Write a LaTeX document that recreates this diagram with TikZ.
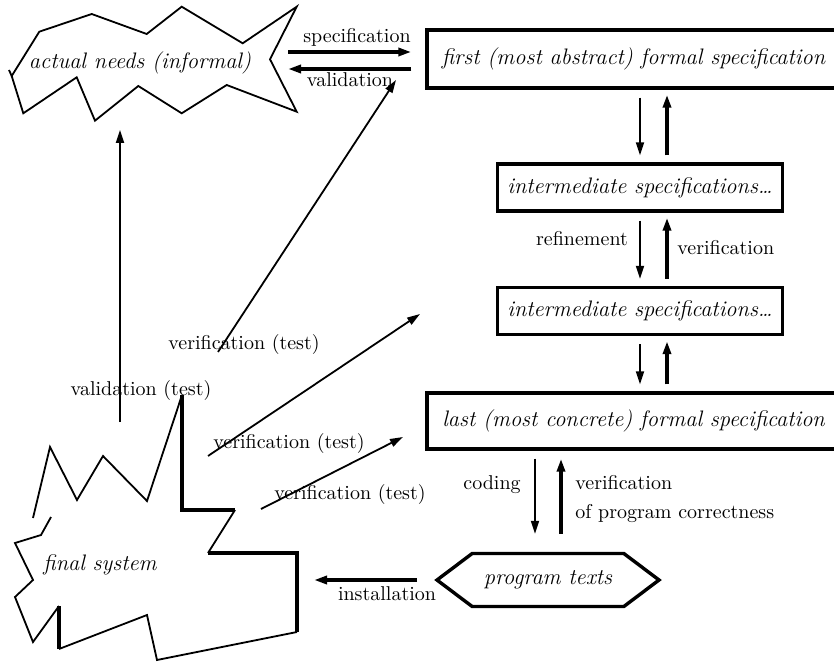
\documentclass[tikz,border=0pt]{standalone}
\usepackage{tikz}
\usetikzlibrary{calc, arrows.meta, shapes.symbols}

\begin{document}
\begin{tikzpicture}[x=0.5pt, y=-0.5pt,
	thinline/.style = {line width=0.9pt},
	thickline/.style = {line width=1.7pt},
	tip/.style = {-{Triangle[length=6.5pt, width=4pt]}},
	itfont/.style = {font=\fontsize{11.2}{13}\selectfont\itshape},
	specbox/.style = {draw, thickline, itfont, inner sep=0pt},
	lbl/.style = {inner sep=0pt}]

	\useasboundingbox (0,0) rectangle (834,662);

	% columns of the refinement arrows
	\coordinate (dn) at (640,0);
	\coordinate (up) at (667,0);
	\coordinate (cd) at (535,0);
	\coordinate (cv) at (561,0);

	\newcommand{\drawPair}[2]
	{
		\draw [thinline, tip] ($(dn |- #1.south)+(0,8)$) -- ($(dn |- #2.north)+(0,-7)$);
		\draw [thickline, tip] ($(up |- #2.north)+(0,-7)$) -- ($(up |- #1.south)+(0,5)$);
	}

	% formal specifications
	\node [specbox, minimum width=206.5pt, minimum height=29pt] (first) at (633.5,59) {first (most abstract) formal specification};
	\node [specbox, minimum width=142.5pt, minimum height=23.5pt] (interA) at (640,187.5) {intermediate specifications\dots};
	\node [specbox, minimum width=142.5pt, minimum height=23.5pt] (interB) at (640,311) {intermediate specifications\dots};
	\node [specbox, minimum width=206.5pt, minimum height=28pt] (last) at (633.5,421) {last (most concrete) formal specification};
	\node [draw, thickline, signal, signal to=west and east, signal pointer angle=74, minimum width=111pt, minimum height=26.5pt, itfont, inner sep=0pt] (prog) at (548,580) {program texts};

	\drawPair{first}{interA};
	\drawPair{interA}{interB};
	\drawPair{interB}{last};
	\node [lbl] (refine) at (582,239) {refinement};
	\node [lbl, anchor=west] (verif) at (677,248) {verification};

	% actual needs
	\begin{scope}[thinline]
		\draw (11.7,76) -- (39.3,31.7) -- (91.7,14) -- (146.7,34) -- (181.7,6.7) -- (242.7,43.3) -- (296.7,6.7) -- (270,59.3) -- (296.7,111.7) -- (226.7,85) -- (181.7,113.3) -- (138.3,86) -- (95,120.7) -- (76.7,77.3) -- (23.3,113.3) -- cycle;
		\draw (9,70) -- (11.7,76);
	\end{scope}
	\node [lbl, itfont] (needs) at (140,63) {actual needs (informal)};
	\coordinate (needsE) at (288,60.5);
	\coordinate (needsS) at (120,130);

	% final system
	\begin{scope}[thinline]
		\draw (33,518) -- (50,447) -- (77,500) -- (103,456) -- (147,501) -- (182,395);
		\draw [thickline] (182,395) -- (182,510) -- (235,510);
		\draw (235,510) -- (208,553);
		\draw [thickline] (208,553) -- (297,553) -- (297,632);
		\draw (297,632) -- (157,660) -- (147,615) -- (59,649);
		\draw [thickline] (59,649) -- (59,606);
		\draw (59,606) -- (33,642) -- (15,597) -- (33,580) -- (15,543) -- (41,535) -- (51,517);
	\end{scope}
	\node [lbl, itfont] (final) at (100,565) {final system};
	\coordinate (finalN) at (120,422);
	\coordinate (finalE) at (314,580);

	% specification and validation
	\draw [thickline, tip] ($(needsE)+(0,-8.5)$) -- ($(first.west)+(-14,-7)$);
	\draw [thickline, tip] ($(first.west)+(-14,10)$) -- ($(needsE)+(0,8.5)$);
	\node [lbl] (spec) at (357,37) {specification};
	\node [lbl] (valid) at (350,80) {validation};

	% validation and verification by test
	\coordinate (vA) at (218,352);
	\coordinate (vB) at (208,456);
	\coordinate (vC) at (261,509);
	\draw [thinline, tip] (finalN) -- (needsS);
	\draw [thinline, tip] (vA) -- (396,80);
	\draw [thinline, tip] (vB) -- (420,314);
	\draw [thinline, tip] (vC) -- (403,437);
	\node [lbl] (vtest) at (141,390) {validation (test)};
	\node [lbl] (testA) at (244,345) {verification (test)};
	\node [lbl] (testB) at (289,443) {verification (test)};
	\node [lbl] (testC) at (350,494) {verification (test)};

	% coding and installation
	\draw [thinline, tip] ($(cd |- last.south)+(0,8)$) -- ($(cd |- prog.north)+(0,-18)$);
	\draw [thickline, tip] ($(cv |- prog.north)+(0,-18)$) -- ($(cv |- last.south)+(0,8)$);
	\node [lbl] (coding) at (492,485) {coding};
	\node [lbl, anchor=west] (vprog) at (575,483) {verification};
	\node [lbl, anchor=west] (vcorr) at (575,514) {of program correctness};
	\draw [thickline, tip] ($(prog.west)+(-17,0)$) -- (finalE);
	\node [lbl] (install) at (387,594) {installation};

\end{tikzpicture}
\end{document}
